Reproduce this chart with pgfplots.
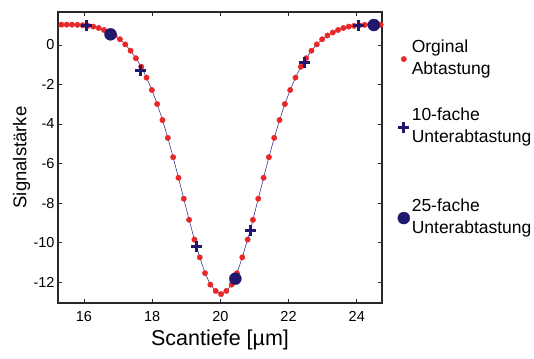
\documentclass[border=0pt]{standalone}
\usepackage{fontspec}
\setmainfont{Liberation Sans}
\usepackage{pgfplots}
\pgfplotsset{compat=1.18}
\definecolor{dotred}{RGB}{232,40,40}
\definecolor{navy}{RGB}{32,24,110}
\definecolor{linec}{RGB}{55,55,150}
\definecolor{axgray}{RGB}{40,40,40}

\pgfplotstableread{
x y
15.340 1.03
15.496 1.03
15.652 1.03
15.808 1.02
15.964 1.00
16.120 0.97
16.276 0.93
16.432 0.86
16.588 0.76
16.744 0.63
16.900 0.48
17.056 0.29
17.212 0.03
17.368 -0.29
17.524 -0.67
17.680 -1.10
17.836 -1.65
17.992 -2.28
18.148 -2.99
18.304 -3.80
18.460 -4.70
18.616 -5.68
18.772 -6.72
18.928 -7.78
19.084 -8.85
19.240 -9.85
19.396 -10.75
19.552 -11.55
19.708 -12.13
19.864 -12.45
20.020 -12.61
20.176 -12.45
20.332 -12.13
20.488 -11.55
20.644 -10.75
20.800 -9.85
20.956 -8.85
21.112 -7.78
21.268 -6.72
21.424 -5.68
21.580 -4.70
21.736 -3.80
21.892 -2.99
22.048 -2.28
22.204 -1.65
22.360 -1.10
22.516 -0.67
22.672 -0.29
22.828 0.03
22.984 0.29
23.140 0.48
23.296 0.63
23.452 0.76
23.608 0.86
23.764 0.93
23.920 0.97
24.076 1.00
24.232 1.02
24.388 1.03
24.544 1.03
24.700 1.03
}\orig

\pgfplotstableread{
x y
16.08 1.00
17.67 -1.30
19.30 -10.18
20.88 -9.40
22.48 -0.88
24.06 1.01
}\tenfold

\pgfplotstableread{
x y
16.78 0.54
20.44 -11.83
24.50 1.01
}\twentyfive

\begin{document}
\begin{tikzpicture}
\path[use as bounding box] (-58pt,-55pt) rectangle (476pt,303pt);
\begin{axis}[
  at={(0pt,0pt)}, anchor=south west,
  scale only axis, width=324pt, height=291pt,
  xmin=15.24, xmax=24.74, ymin=-13.06, ymax=1.67,
  xtick={16,18,...,24}, ytick={-12,-10,...,0},
  tick align=inside, major tick length=4pt,
  axis line style={axgray, line width=1.1pt},
  every tick/.style={axgray, line width=0.8pt},
  tick label style={font=\fontsize{14.5}{17}\selectfont, /pgf/number format/assume math mode=true},
  xticklabel style={yshift=-5pt},
  xlabel={Scantiefe [µm]}, ylabel={Signalstärke},
  xlabel style={font=\fontsize{21.5}{26}\selectfont, at={(axis description cs:0.5,-0.128)}, anchor=center},
  ylabel style={font=\fontsize{18.5}{22}\selectfont, at={(axis description cs:-0.112,0.5)}, anchor=center},
  legend style={draw=none, fill=none, at={(axis description cs:1.031,0.93)}, anchor=north west,
    font=\fontsize{17.5}{22.5}\selectfont, row sep=19pt, nodes={text depth=}},
  legend cell align=left,
]
\addplot[linec, line width=0.6pt, forget plot] table {\orig};
\addplot[only marks, mark=*, mark size=2.7pt, mark options={draw=dotred, fill=dotred}] table {\orig};
\addlegendentry{\begin{tabular}{@{}l@{}}Orginal\\Abtastung\end{tabular}}
\addplot[only marks, mark=+, mark size=5.5pt, mark options={draw=navy, line width=3pt}] table {\tenfold};
\addlegendentry{\begin{tabular}{@{}l@{}}10-fache\\Unterabtastung\end{tabular}}
\addlegendimage{empty legend}
\addlegendentry{}
\addplot[only marks, mark=*, mark size=6pt, mark options={draw=navy, fill=navy}] table {\twentyfive};
\addlegendentry{\begin{tabular}{@{}l@{}}25-fache\\Unterabtastung\end{tabular}}
\end{axis}
\end{tikzpicture}
\end{document}
